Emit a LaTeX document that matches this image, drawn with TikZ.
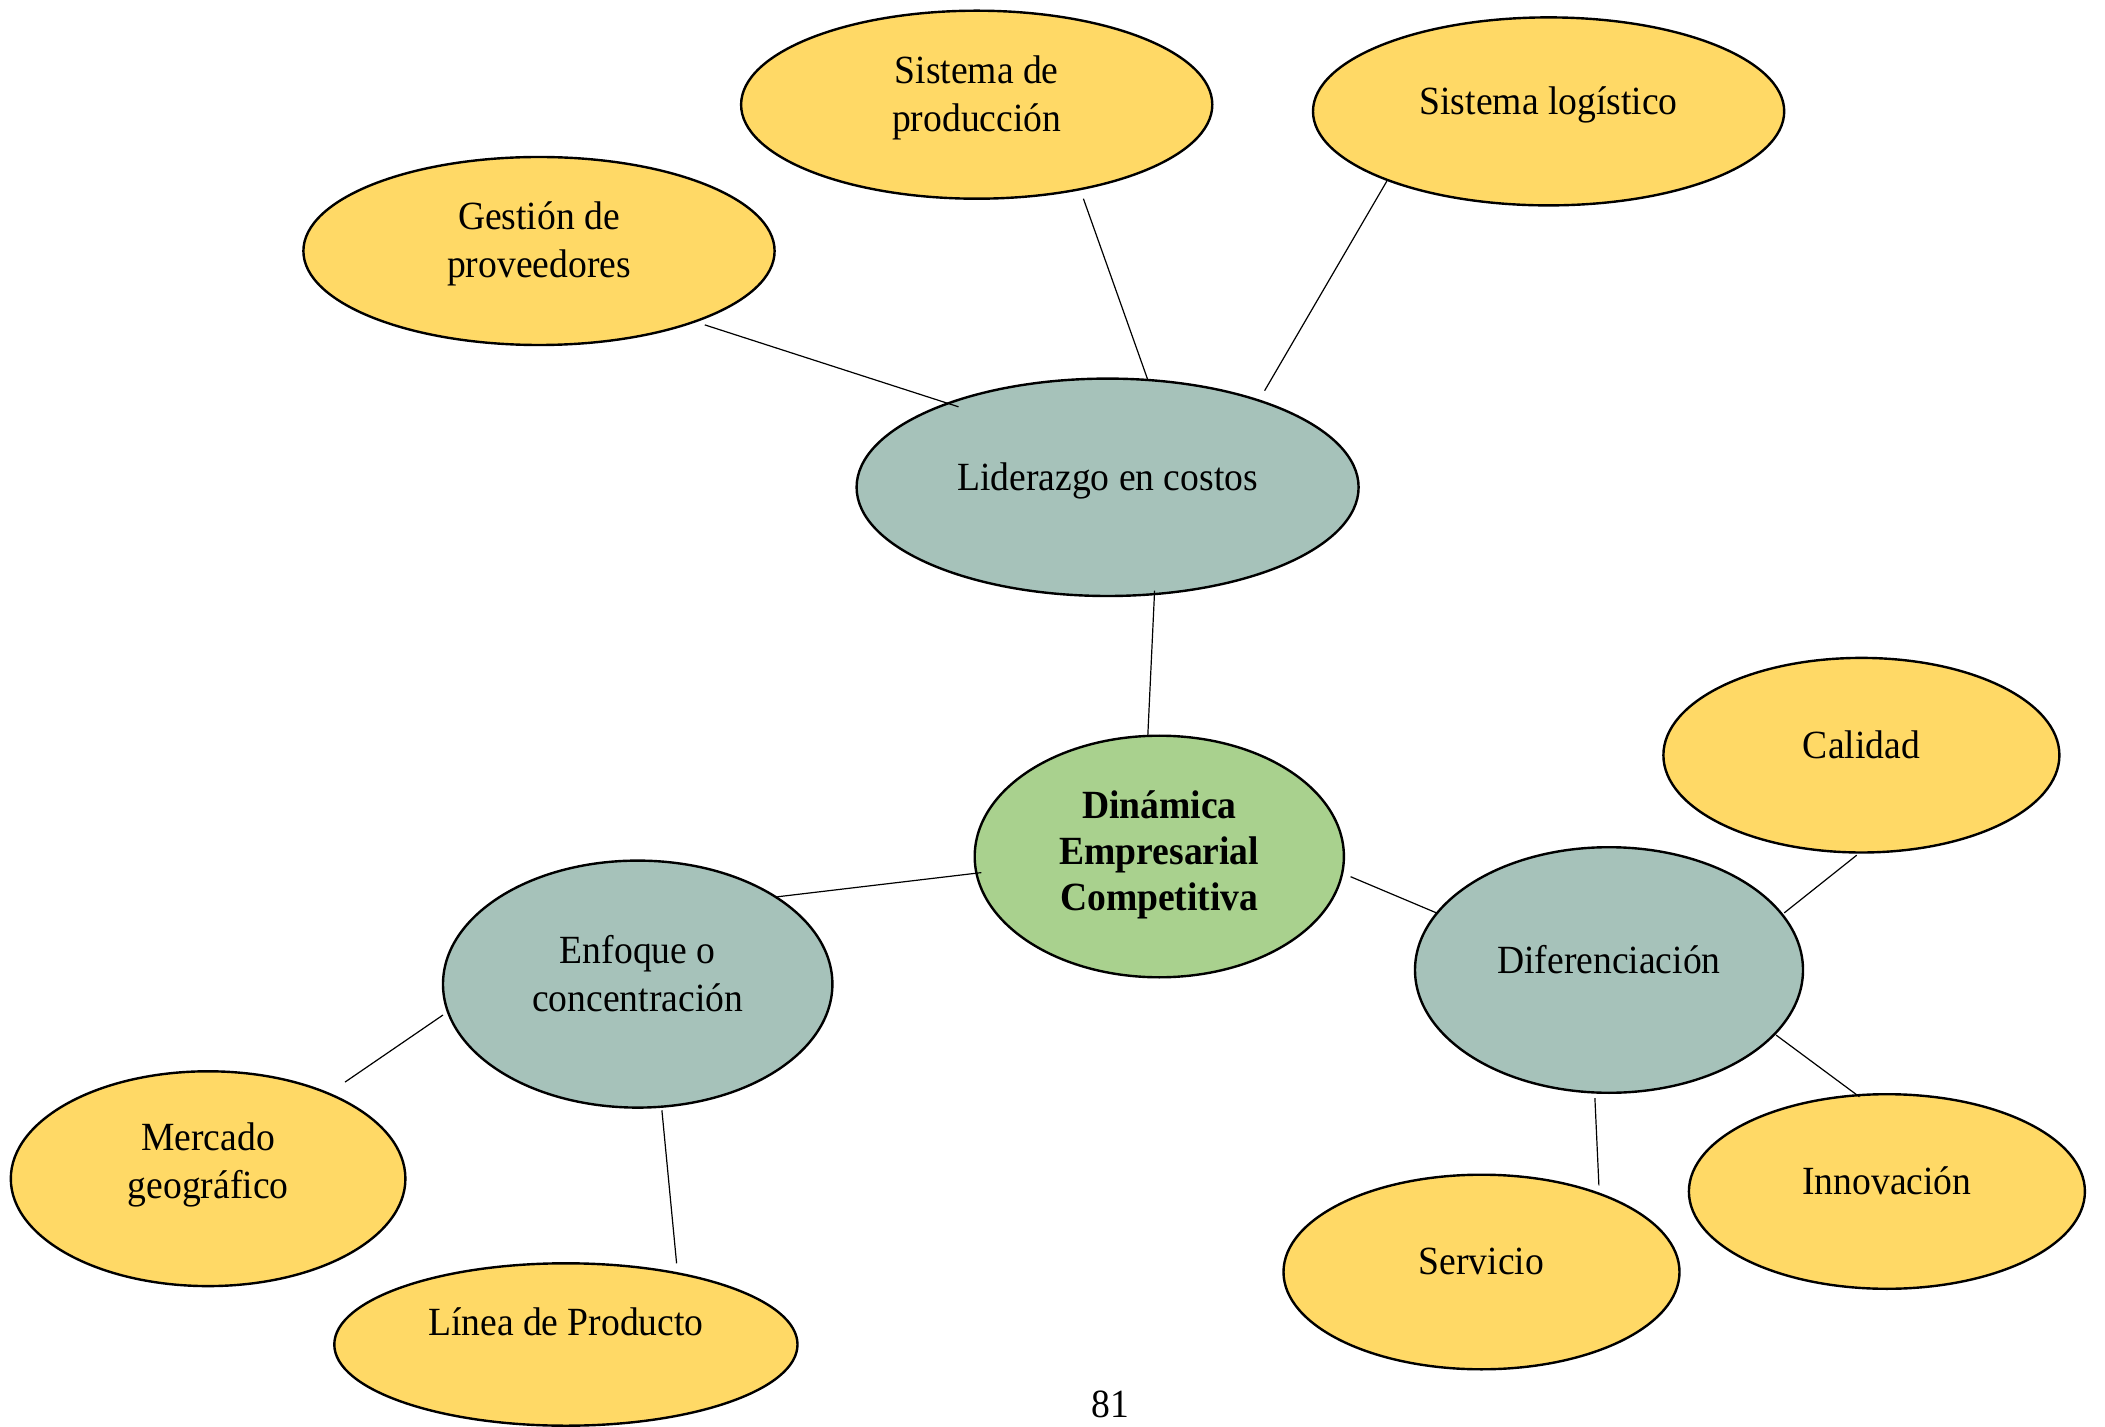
\documentclass[tikz,border=0pt]{standalone}
\usepackage{fontspec}
\setmainfont{Liberation Serif}[FakeStretch=0.94]
\usetikzlibrary{shapes.geometric}
\definecolor{leafyel}{HTML}{FFD966}
\definecolor{midgray}{HTML}{A6C2BA}
\definecolor{coregreen}{HTML}{A9D18E}
\begin{document}
\begin{tikzpicture}[x=0.5pt,y=-0.5pt,
  bubble/.style={ellipse,draw=black,line width=1.2pt,inner sep=0pt},
  leaf/.style={bubble,fill=leafyel},
  mid/.style={bubble,fill=midgray},
  core/.style={bubble,fill=coregreen},
  txt/.style={align=center,inner sep=0pt,font=\fontsize{20}{24}\selectfont},
  boldtxt/.style={align=center,inner sep=0pt,font=\fontsize{20}{23}\selectfont\bfseries},
  link/.style={draw=black,line width=0.6pt}]
\useasboundingbox (0,0) rectangle (2105,1427);
% nodes
\node[mid,minimum width=251pt,minimum height=108.7pt,
  label={[txt,yshift=3.4pt]center:Liderazgo en costos}] (lc) at (1107.6,487.3) {};
\node[leaf,minimum width=235.6pt,minimum height=94pt,
  label={[txt,yshift=3.4pt]center:{Gestión de\\proveedores}}] (gp) at (539.0,251.0) {};
\node[leaf,minimum width=235.6pt,minimum height=94pt,
  label={[txt,yshift=3.4pt]center:{Sistema de\\producción}}] (sp) at (976.7,104.7) {};
\node[leaf,minimum width=235.6pt,minimum height=94pt,
  label={[txt,yshift=3.4pt]center:Sistema logístico}] (sl) at (1548.6,111.4) {};
\node[core,minimum width=184.6pt,minimum height=120.8pt,
  label={[boldtxt,yshift=0.8pt]center:{Dinámica\\Empresarial\\Competitiva}}] (din) at (1159.3,856.5) {};
\node[mid,minimum width=194.7pt,minimum height=123.5pt,
  label={[txt,yshift=5.4pt]center:{Enfoque o\\concentración}}] (enf) at (637.7,984.1) {};
\node[mid,minimum width=194pt,minimum height=122.8pt,
  label={[txt,yshift=5.4pt]center:Diferenciación}] (dif) at (1609.0,970.0) {};
\node[leaf,minimum width=198pt,minimum height=97.3pt,
  label={[txt,yshift=5.4pt]center:Calidad}] (cal) at (1861.4,755.2) {};
\node[leaf,minimum width=198pt,minimum height=97.3pt,
  label={[txt,yshift=5.4pt]center:Innovación}] (inn) at (1886.9,1191.5) {};
\node[leaf,minimum width=198pt,minimum height=97.3pt,
  label={[txt,yshift=5.4pt]center:Servicio}] (ser) at (1481.5,1272.0) {};
\node[leaf,minimum width=197.3pt,minimum height=107.4pt,
  label={[txt,yshift=6.7pt]center:{Mercado\\geográfico}}] (mer) at (208.1,1178.7) {};
\node[leaf,minimum width=231.6pt,minimum height=81.2pt,
  label={[txt,yshift=11.4pt]center:Línea de Producto}] (lin) at (565.9,1344.5) {};
\node[txt] (pg) at (1110.3,1404.3) {81};
% connector ends
\coordinate (gpA) at (704.8,324.9);  \coordinate (gpB) at (958.5,406.8);
\coordinate (spA) at (1083.4,198.7); \coordinate (spB) at (1147.8,379.9);
\coordinate (slA) at (1386.8,181.2); \coordinate (slB) at (1264.6,390.7);
\coordinate (lcA) at (1154.6,590.7); \coordinate (lcB) at (1147.8,735.7);
\coordinate (enA) at (981.4,872.6);  \coordinate (enB) at (777.3,896.8);
\coordinate (dfA) at (1350.6,876.7); \coordinate (dfB) at (1436.5,912.9);
\coordinate (caA) at (1856.7,855.2); \coordinate (caB) at (1784.2,912.9);
\coordinate (inA) at (1776.1,1035.1);\coordinate (inB) at (1859.4,1096.8);
\coordinate (seA) at (1594.9,1098.2);\coordinate (seB) at (1598.9,1185.4);
\coordinate (meA) at (443.0,1015.0); \coordinate (meB) at (345.0,1082.1);
\coordinate (liA) at (661.9,1110.3); \coordinate (liB) at (676.6,1263.3);
% connectors
\draw[link] (gpA) -- (gpB);
\draw[link] (spA) -- (spB);
\draw[link] (slA) -- (slB);
\draw[link] (lcA) -- (lcB);
\draw[link] (enA) -- (enB);
\draw[link] (dfA) -- (dfB);
\draw[link] (caA) -- (caB);
\draw[link] (inA) -- (inB);
\draw[link] (seA) -- (seB);
\draw[link] (meA) -- (meB);
\draw[link] (liA) -- (liB);
\end{tikzpicture}
\end{document}
